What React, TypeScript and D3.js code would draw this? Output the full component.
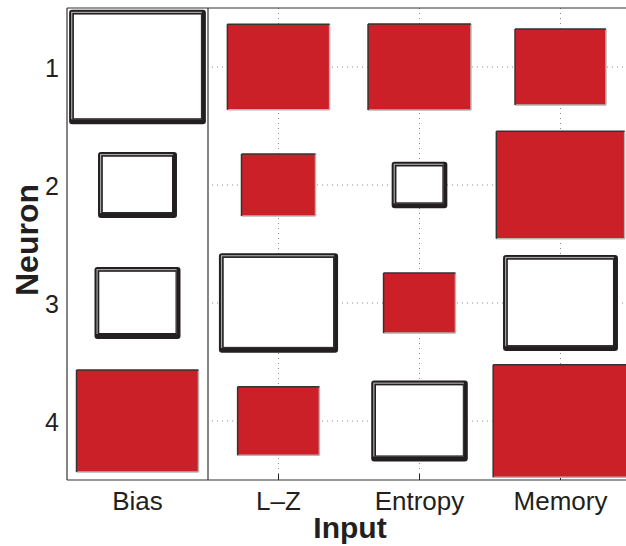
import React from "react";
import * as d3 from "d3";

const inputs = ["Bias", "L\u2013Z", "Entropy", "Memory"];
const neurons = ["1", "2", "3", "4"];
// signed weights (positive = red filled, negative = white outlined), relative to the largest
const row1 = [-0.97, 0.725, 0.73, 0.645];
const row2 = [-0.56, 0.525, -0.395, 0.91];
const row3 = [-0.61, -0.845, 0.51, -0.815];
const row4 = [0.865, 0.58, -0.685, 0.955];
const weights = [row1, row2, row3, row4];

const W = 626;
const H = 546;
const left = 67, right = 631, top = 8, bottom = 480;
const RED = "#cc2028";
const FONT = "'Liberation Sans', Arial, Helvetica, sans-serif";

export default function App() {
  const x = d3.scaleLinear().domain([-0.5, inputs.length - 0.5]).range([left, right]);
  const y = d3.scaleLinear().domain([-0.5, neurons.length - 0.5]).range([top, bottom]);
  const cw = x(1) - x(0);
  const ch = y(1) - y(0);
  const sep = x(0.5);

  const cells: { i: number; j: number; w: number }[] = [];
  weights.forEach((row, j) => row.forEach((w, i) => cells.push({ i, j, w })));

  return (
    <svg width={W} height={H} style={{ position: "absolute", left: 0, top: 0, background: "#fff" }}>
      {/* grid (right axes only) */}
      <g stroke="#8a8a8a" strokeWidth={1} strokeDasharray="1,4">
        {inputs.slice(1).map((_, k) => (
          <line key={"v" + k} x1={x(k + 1)} x2={x(k + 1)} y1={top} y2={bottom} />
        ))}
        {neurons.map((_, j) => (
          <line key={"h" + j} x1={sep + 4} x2={right} y1={y(j)} y2={y(j)} />
        ))}
      </g>
      {/* ticks */}
      <g stroke="#222" strokeWidth={1}>
        {inputs.slice(1).map((_, k) => (
          <line key={"t" + k} x1={x(k + 1)} x2={x(k + 1)} y1={bottom} y2={bottom - 6} />
        ))}
      </g>
      {/* boxes */}
      {cells.map(({ i, j, w }) => {
        const a = Math.abs(w);
        const bw = a * cw;
        const bh = a * ch;
        const x0 = x(i) - bw / 2;
        const y0 = y(j) - bh / 2;
        if (w > 0) {
          return (
            <g key={`${i}-${j}`}>
              <rect x={x0} y={y0} width={bw} height={bh} fill={RED} />
              <line x1={x0} x2={x0 + bw} y1={y0 + bh} y2={y0 + bh} stroke="#b5b5b5" strokeWidth={1.5} />
              <line x1={x0 + bw} x2={x0 + bw} y1={y0} y2={y0 + bh} stroke="#b5b5b5" strokeWidth={1.5} />
              <line x1={x0} x2={x0 + bw} y1={y0} y2={y0} stroke="#333" strokeWidth={1.5} />
              <line x1={x0} x2={x0} y1={y0} y2={y0 + bh} stroke="#333" strokeWidth={1.5} />
            </g>
          );
        }
        return (
          <g key={`${i}-${j}`}>
            <rect x={x0} y={y0} width={bw} height={bh} rx={3} fill="#231f20" />
            <rect x={x0 + 2} y={y0 + 2} width={bw - 6} height={bh - 7} fill="#a8a8a8" />
            <rect x={x0 + 3.2} y={y0 + 3.2} width={bw - 7.2} height={bh - 8.2} fill="#231f20" />
            <rect x={x0 + 4.8} y={y0 + 4.8} width={bw - 9.8} height={bh - 10.8} fill="#fff" />
          </g>
        );
      })}
      {/* frame */}
      <g stroke="#333" strokeWidth={1.2} fill="none">
        <line x1={left} x2={W} y1={top} y2={top} />
        <line x1={left} x2={W} y1={bottom} y2={bottom} />
        <line x1={left} x2={left} y1={top} y2={bottom} />
        <line x1={sep} x2={sep} y1={top} y2={bottom} />
      </g>
      {/* tick labels */}
      <g fontFamily={FONT} fill="#231f20">
        {neurons.map((n, j) => (
          <text key={n} x={59} y={y(j) + 10} fontSize={25} textAnchor="end">
            {n}
          </text>
        ))}
        {inputs.map((c, i) => (
          <text key={c} x={x(i)} y={510} fontSize={26} textAnchor="middle">
            {c}
          </text>
        ))}
      </g>
      <text x={350} y={538} textAnchor="middle" fontFamily={FONT} fontSize={30} fontWeight="bold" fill="#231f20">
        Input
      </text>
      <text
        transform={`translate(38, 240) rotate(-90)`}
        textAnchor="middle"
        fontFamily={FONT}
        fontSize={32}
        fontWeight="bold"
        fill="#231f20"
      >
        Neuron
      </text>
    </svg>
  );
}
